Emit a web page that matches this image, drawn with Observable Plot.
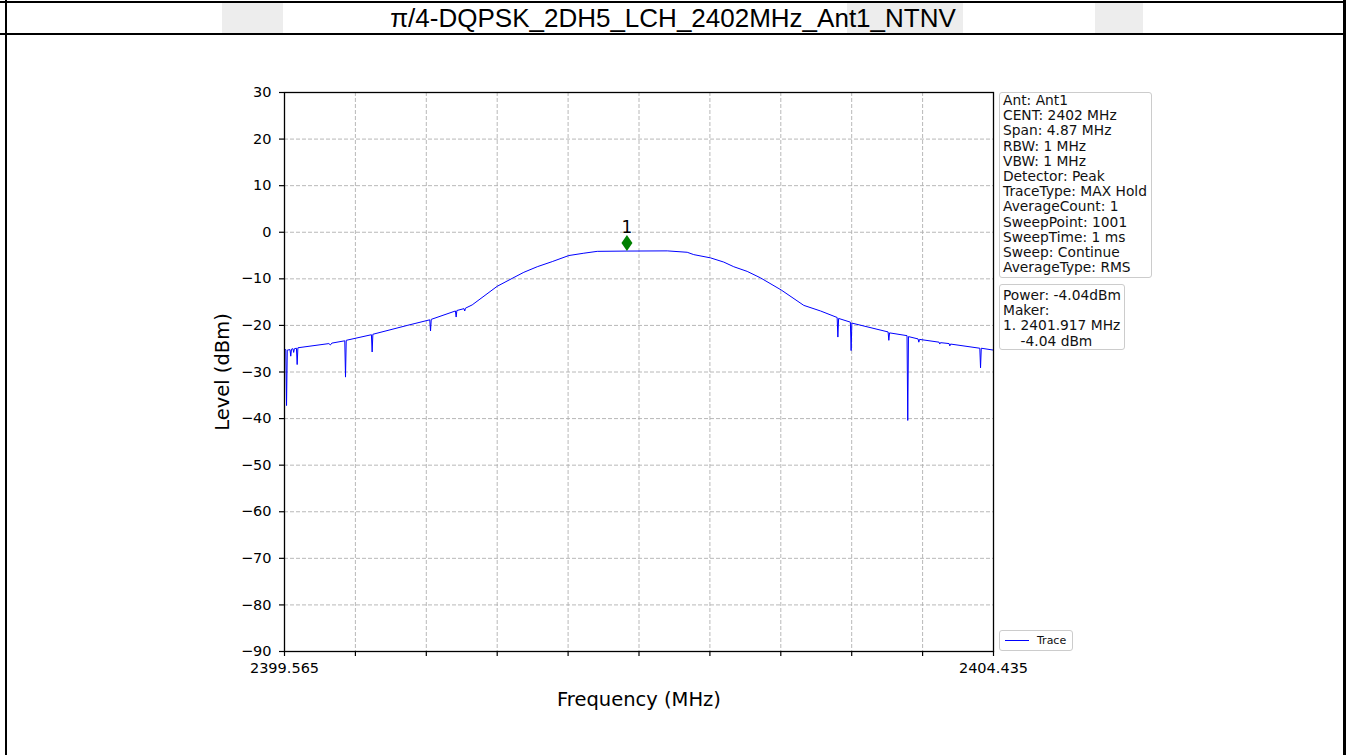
<!DOCTYPE html>
<html>
<head>
<meta charset="utf-8">
<script src="https://cdn.jsdelivr.net/npm/d3@7"></script>
<script src="https://cdn.jsdelivr.net/npm/@observablehq/plot@0.6"></script>
<style>
  body { margin: 0; background: #fff; }
  #page { position: relative; width: 1346px; height: 755px; overflow: hidden; background: #fff; }
  .abs { position: absolute; }
  #title { left: 0; top: 0; width: 1346px; height: 34px; text-align: center; font-family: "Liberation Sans", Arial, sans-serif; font-size: 26px; line-height: 36px; color: #000; z-index: 2; }
  .wm { background: #ededed; top: 3px; height: 30px; z-index: 1; }
  .bline { background: #000; z-index: 3; }
  #chart { left: 0; top: 34px; }
  .box { border: 1px solid #cccccc; border-radius: 3px; background: rgba(255,255,255,0.85); font-family: "DejaVu Sans", sans-serif; color: #111; white-space: pre; box-sizing: border-box; }
  #info1 { left: 999px; top: 92px; width: 153px; height: 186px; font-size: 13.8px; line-height: 15.2px; padding: 0 0 0 3px; }
  #info2 { left: 999px; top: 284px; width: 126px; height: 66px; font-size: 13.8px; line-height: 15.2px; padding: 3px 0 0 3px; }
  #leg { left: 999px; top: 630px; width: 74px; height: 21px; font-size: 11px; }
  #leg .ln { position: absolute; left: 5px; top: 9px; width: 24px; height: 0; border-top: 1.5px solid blue; }
  #leg .tx { position: absolute; left: 37px; top: 2px; line-height: 15px; }
</style>
</head>
<body>
<div id="page">
  <div class="abs wm" style="left:222px;width:61px;"></div>
  <div class="abs wm" style="left:847px;width:116px;"></div>
  <div class="abs wm" style="left:1095px;width:48px;"></div>
  <div id="title" class="abs"></div>
  <div class="abs bline" style="left:0;top:1px;width:1346px;height:2px;"></div>
  <div class="abs bline" style="left:0;top:33px;width:1346px;height:2px;"></div>
  <div class="abs bline" style="left:5px;top:0;width:2px;height:755px;"></div>
  <div class="abs bline" style="left:1343px;top:0;width:3px;height:755px;"></div>
  <div id="chart" class="abs"></div>
  <div id="info1" class="abs box"></div>
  <div id="info2" class="abs box"></div>
  <div id="leg" class="abs box"><div class="ln"></div><div class="tx"></div></div>
</div>
<script>
// ---- Data ----
const titleText = "π/4-DQPSK_2DH5_LCH_2402MHz_Ant1_NTNV";
const xLabel = "Frequency (MHz)";
const yLabel = "Level (dBm)";
const traceName = "Trace";

const traceFreq = [
  2399.565, 2399.574, 2399.579, 2399.584, 2399.603, 2399.608, 2399.613, 2399.623, 2399.628, 2399.633,
  2399.647, 2399.652, 2399.657, 2399.870, 2399.880, 2399.890, 2399.979, 2399.984, 2399.989, 2400.162,
  2400.167, 2400.172, 2400.408, 2400.563, 2400.568, 2400.573, 2400.739, 2400.744, 2400.749, 2400.798,
  2400.803, 2400.808, 2400.854, 2401.026, 2401.129, 2401.209, 2401.301, 2401.404, 2401.518, 2401.621,
  2401.713, 2401.917, 2402.194, 2402.331, 2402.376, 2402.491, 2402.582, 2402.651, 2402.743, 2402.835,
  2402.977, 2403.132, 2403.247, 2403.361, 2403.366, 2403.371, 2403.452, 2403.457, 2403.462, 2403.711,
  2403.716, 2403.721, 2403.841, 2403.846, 2403.851, 2403.917, 2403.922, 2403.927, 2404.061, 2404.066,
  2404.071, 2404.130, 2404.135, 2404.140, 2404.341, 2404.346, 2404.351, 2404.435
];
const traceLevel = [
  -25.1, -25.2, -37.2, -25.3, -25.2, -26.6, -25.1, -25.0, -25.8, -25.0,
  -24.9, -28.4, -24.8, -23.9, -24.2, -23.8, -23.3, -31.1, -23.2, -22.0,
  -25.7, -21.9, -20.0, -18.8, -21.2, -18.7, -16.9, -18.2, -16.8, -16.4,
  -16.9, -16.3, -15.6, -11.6, -9.9, -8.6, -7.4, -6.3, -5.0, -4.5,
  -4.1, -4.04, -4.0, -4.3, -4.8, -5.5, -6.4, -7.4, -8.4, -9.8,
  -12.4, -15.7, -16.9, -18.3, -22.5, -18.5, -19.3, -25.4, -19.5, -21.4,
  -23.2, -21.6, -22.2, -40.4, -22.4, -22.9, -23.6, -23.0, -23.6, -24.0,
  -23.7, -23.9, -24.4, -24.0, -24.9, -29.1, -24.9, -25.3
];

const markerFreq = [2401.917];
const markerLevel = [-4.04];
const markerLabel = ["1"];

const xTicks = [2399.565, 2400.052, 2400.539, 2401.026, 2401.513, 2402.000, 2402.487, 2402.974, 2403.461, 2403.948, 2404.435];
const xTickLabels = ["2399.565", "", "", "", "", "", "", "", "", "", "2404.435"];
const yTicks = [-90, -80, -70, -60, -50, -40, -30, -20, -10, 0, 10, 20, 30];

const infoLines = ["Ant: Ant1", "CENT: 2402 MHz", "Span: 4.87 MHz", "RBW: 1 MHz", "VBW: 1 MHz", "Detector: Peak",
  "TraceType: MAX Hold", "AverageCount: 1", "SweepPoint: 1001", "SweepTime: 1 ms", "Sweep: Continue", "AverageType: RMS"];
const powerLines = ["Power: -4.04dBm", "Maker:", "1. 2401.917 MHz", "    -4.04 dBm"];

// ---- Build ----
document.getElementById("title").textContent = titleText;
document.getElementById("info1").textContent = infoLines.join("\n");
document.getElementById("info2").textContent = powerLines.join("\n");
document.querySelector("#leg .tx").textContent = traceName;

const trace = traceFreq.map((f, i) => ({f, l: traceLevel[i]}));
const markers = markerFreq.map((f, i) => ({f, l: markerLevel[i], t: markerLabel[i]}));
const xLabelMap = new Map(xTicks.map((t, i) => [t, xTickLabels[i]]));
const fmtY = d => d < 0 ? "\u2212" + Math.abs(d) : String(d);

const thinDiamond = {
  draw(ctx) {
    ctx.moveTo(0, -8); ctx.lineTo(5.5, 0); ctx.lineTo(0, 8); ctx.lineTo(-5.5, 0); ctx.closePath();
  }
};

const gridStyle = {stroke: "#b0b0b0", strokeOpacity: 1, strokeDasharray: "4,2", strokeWidth: 0.9};

const chart = Plot.plot({
  width: 1346,
  height: 721,
  marginLeft: 284,
  marginRight: 353,
  marginTop: 58,
  marginBottom: 104,
  style: {fontFamily: "DejaVu Sans, sans-serif", fontSize: "14.5px", color: "#000", background: "transparent", overflow: "visible"},
  x: {domain: [xTicks[0], xTicks[xTicks.length - 1]]},
  y: {domain: [yTicks[0], yTicks[yTicks.length - 1]]},
  marks: [
    Plot.gridX(xTicks, gridStyle),
    Plot.gridY(yTicks, gridStyle),
    Plot.line(trace, {x: "f", y: "l", stroke: "#0000ff", strokeWidth: 1}),
    Plot.dot(markers, {x: "f", y: "l", symbol: thinDiamond, fill: "green", stroke: "none", dy: -8}),
    Plot.text(markers, {x: "f", y: "l", text: "t", dy: -24, fontSize: 17, fill: "black"}),
    Plot.frame({stroke: "#000", strokeWidth: 1.3}),
    Plot.axisY(yTicks, {tickSize: 5, tickPadding: 8, tickFormat: fmtY, label: null, fontSize: 14.5, strokeWidth: 1.2}),
    Plot.axisX(xTicks, {tickSize: 5, tickPadding: 6, tickFormat: d => xLabelMap.get(d), label: null, fontSize: 14.5, strokeWidth: 1.2}),
    Plot.text([yLabel], {frameAnchor: "left", textAnchor: "middle", lineAnchor: "middle", rotate: -90, dx: -62, fontSize: 19.5, fill: "black"}),
    Plot.text([xLabel], {frameAnchor: "bottom", textAnchor: "middle", lineAnchor: "middle", dy: 48, fontSize: 19.5, fill: "black"})
  ]
});
document.getElementById("chart").appendChild(chart);
</script>
</body>
</html>
